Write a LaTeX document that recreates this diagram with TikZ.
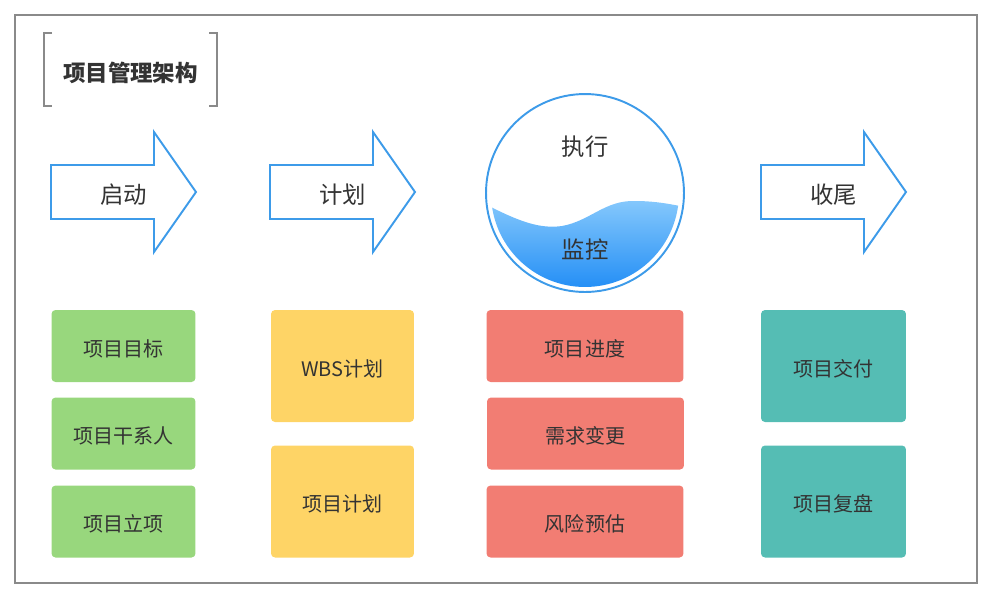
\documentclass[tikz,border=0pt]{standalone}
\usepackage{fontspec}
\setmainfont{Noto Sans CJK SC}
\definecolor{framegray}{HTML}{8A8A8A}
\definecolor{arrowblue}{HTML}{3D9BE9}
\definecolor{textgray}{HTML}{333333}
\definecolor{startgreen}{HTML}{98D77D}
\definecolor{planyellow}{HTML}{FED466}
\definecolor{execred}{HTML}{F27D73}
\definecolor{closeteal}{HTML}{55BDB4}
\definecolor{waterlight}{HTML}{85C8FC}
\definecolor{waterdark}{HTML}{1C8AF5}
\begin{document}
\begin{tikzpicture}[x=0.02cm, y=-0.02cm,
  stage/.style={draw=arrowblue, line width=1.1pt, line join=miter, fill=white},
  stagelabel/.style={text=textgray, font=\fontsize{13.3}{16}\selectfont, text height=15pt, text depth=1.6pt},
  task/.style={rectangle, rounded corners=0.08cm, text=textgray, font=\fontsize{11.4}{14}\selectfont, text height=13pt, text depth=1.4pt},
  smalltask/.style={task, minimum height=1.44cm},
  bigtask/.style={task, minimum height=2.24cm}]
\useasboundingbox (0,0) rectangle (991,600);
\draw[framegray, line width=0.6pt] (15,15) rectangle (977,583);

% title
\node[text=textgray, font=\fontsize{12.8}{15}\selectfont\bfseries] (Title) at (130.5,72.5) {项目管理架构};
\draw[framegray, line width=1.2pt] (52,33) -- (44,33) -- (44,106) -- (52,106);
\draw[framegray, line width=1.2pt] (209,33) -- (217,33) -- (217,106) -- (209,106);

% stage arrows
\foreach \a/\name/\txt in {51/Start/启动, 270/Plan/计划, 761/Close/收尾} {
  \draw[stage] (\a,165) -- (\a+103,165) -- (\a+103,132) -- (\a+145,192)
    -- (\a+103,252) -- (\a+103,219) -- (\a,219) -- cycle;
  \node[stagelabel] (\name) at (\a+72.5,192) {\txt};
}

% execution circle
\begin{scope}
  \clip (585,193) circle [radius=1.88cm];
  \shade[top color=waterlight, bottom color=waterdark]
    (485,204) .. controls (520,222) and (540,229) .. (562,226)
    .. controls (590,221) and (605,200) .. (635,201)
    .. controls (655,201) and (670,204) .. (685,207)
    -- (685,295) -- (485,295) -- cycle;
\end{scope}
\node[circle, draw=arrowblue, line width=1.1pt, minimum size=3.96cm] (Exec) at (585,193) {};
\node[stagelabel] (ExecTop) at (585,144) {执行};
\node[stagelabel] (ExecBottom) at (585,247) {监控};

% tasks
\node[smalltask, fill=startgreen, minimum width=2.88cm] (Goal) at (123.5,346) {项目目标};
\node[smalltask, fill=startgreen, minimum width=2.88cm] (Stakeholder) at (123.5,433.5) {项目干系人};
\node[smalltask, fill=startgreen, minimum width=2.88cm] (Approval) at (123.5,521.5) {项目立项};

\node[bigtask, fill=planyellow, minimum width=2.86cm] (WBS) at (342.5,366) {WBS计划};
\node[bigtask, fill=planyellow, minimum width=2.86cm] (Schedule) at (342.5,501.5) {项目计划};

\node[smalltask, fill=execred, minimum width=3.94cm] (Progress) at (585,346) {项目进度};
\node[smalltask, fill=execred, minimum width=3.94cm] (Change) at (585.5,433.5) {需求变更};
\node[smalltask, fill=execred, minimum width=3.94cm] (Risk) at (585,521.5) {风险预估};

\node[bigtask, fill=closeteal, minimum width=2.9cm] (Delivery) at (833.5,366) {项目交付};
\node[bigtask, fill=closeteal, minimum width=2.9cm] (Review) at (833.5,501.5) {项目复盘};
\end{tikzpicture}
\end{document}
